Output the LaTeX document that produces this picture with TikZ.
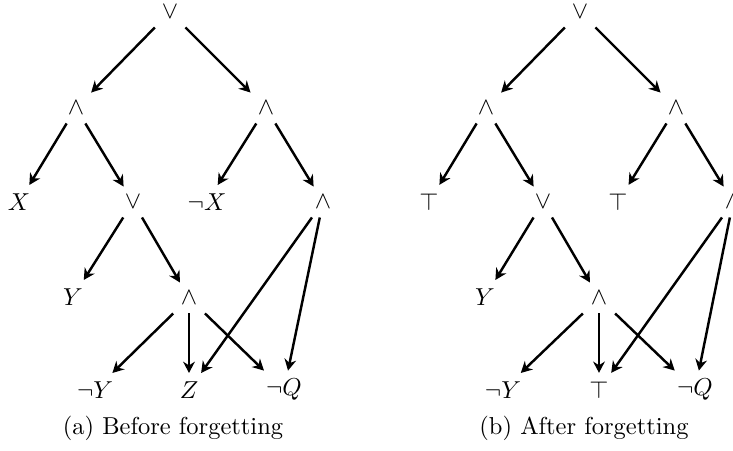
\documentclass[tikz,border=0pt]{standalone}
\usetikzlibrary{arrows.meta}
\begin{document}
\begin{tikzpicture}[x=0.4082pt,y=-0.4082pt, edge/.style={-{Stealth[length=4.6pt,width=4.8pt,inset=1.5pt]},line width=1pt}]
\useasboundingbox (0,0) rectangle (733,450);
\clip (0,0) rectangle (733,450);
% (a) Before forgetting
\node (aR) at (170,12) {$\vee$};
\node (aL) at (76,108) {$\wedge$};
\node (aRi) at (266,108) {$\wedge$};
\node (aX) at (19,202) {$X$};
\node (aO) at (133,202) {$\vee$};
\node (anX) at (207,202) {$\neg X$};
\node (aA) at (323,202) {$\wedge$};
\node (aY) at (73,297) {$Y$};
\node (aM) at (189,298) {$\wedge$};
\node (anY) at (95,390) {$\neg Y$};
\node (aZ) at (189,390) {$Z$};
\node (anQ) at (284,390) {$\neg Q$};
\node (acap) at (173,428) {(a) Before forgetting};
\draw[edge] (aR) -- (aL);
\draw[edge] (aR) -- (aRi);
\draw[edge] (aL) -- (aX);
\draw[edge] (aL) -- (aO);
\draw[edge] (aRi) -- (anX);
\draw[edge] (aRi) -- (aA);
\draw[edge] (aO) -- (aY);
\draw[edge] (aO) -- (aM);
\draw[edge] (aM) -- (anY);
\draw[edge] (aM) -- (aZ);
\draw[edge] (aM) -- (anQ);
\draw[edge] (aA) -- (aZ);
\draw[edge] (aA) -- (anQ);
% (b) After forgetting
\begin{scope}[xshift=410*0.4082pt]
\node (bR) at (170,12) {$\vee$};
\node (bL) at (76,108) {$\wedge$};
\node (bRi) at (266,108) {$\wedge$};
\node (bX) at (19,202) {$\top$};
\node (bO) at (133,202) {$\vee$};
\node (bnX) at (208,202) {$\top$};
\node (bA) at (323,202) {$\wedge$};
\node (bY) at (75,297) {$Y$};
\node (bM) at (189,298) {$\wedge$};
\node (bnY) at (93,390) {$\neg Y$};
\node (bZ) at (189,390) {$\top$};
\node (bnQ) at (285,390) {$\neg Q$};
\node (bcap) at (174,428) {(b) After forgetting};
\draw[edge] (bR) -- (bL);
\draw[edge] (bR) -- (bRi);
\draw[edge] (bL) -- (bX);
\draw[edge] (bL) -- (bO);
\draw[edge] (bRi) -- (bnX);
\draw[edge] (bRi) -- (bA);
\draw[edge] (bO) -- (bY);
\draw[edge] (bO) -- (bM);
\draw[edge] (bM) -- (bnY);
\draw[edge] (bM) -- (bZ);
\draw[edge] (bM) -- (bnQ);
\draw[edge] (bA) -- (bZ);
\draw[edge] (bA) -- (bnQ);
\end{scope}
\end{tikzpicture}
\end{document}
